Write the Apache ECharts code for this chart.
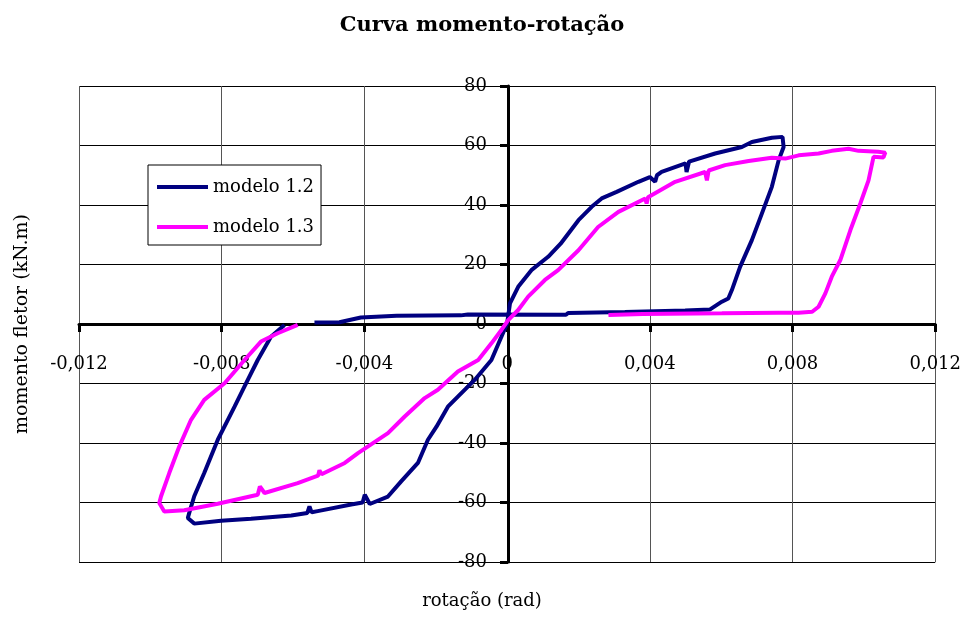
<!DOCTYPE html>
<html>
<head>
<meta charset="utf-8">
<script src="https://cdn.jsdelivr.net/npm/echarts@6/dist/echarts.min.js"></script>
<style>html,body{margin:0;padding:0;background:#fff}#c{width:964px;height:617px}</style>
</head>
<body>
<div id="c"></div>
<script>
const titleText = 'Curva momento-rotação';
const xAxisName = 'rotação (rad)';
const yAxisName = 'momento fletor (kN.m)';
const seriesNames = ['modelo 1.2', 'modelo 1.3'];
const xTicks = [-0.012, -0.008, -0.004, 0, 0.004, 0.008, 0.012];
const yTicks = [-80, -60, -40, -20, 0, 20, 40, 60, 80];

const modelo12 = [
  [-0.00624, -0.3], [-0.00662, -4.3], [-0.00699, -12.1], [-0.00736, -21.0], [-0.00764, -27.8],
  [-0.00811, -38.9], [-0.00849, -50.1], [-0.00877, -57.9], [-0.00891, -63.5], [-0.00895, -65.2],
  [-0.00877, -67.1], [-0.00802, -66.1], [-0.00718, -65.5], [-0.00605, -64.4], [-0.00560, -63.5],
  [-0.00554, -61.3], [-0.00548, -63.3], [-0.00531, -62.9], [-0.00437, -60.7], [-0.00405, -60.0],
  [-0.00399, -57.4], [-0.00385, -60.5], [-0.00334, -58.0], [-0.00297, -52.9], [-0.00250, -46.7],
  [-0.00222, -38.9], [-0.00198, -34.5], [-0.00166, -27.8], [-0.00138, -24.4], [-0.00091, -18.8],
  [-0.00044, -12.1], [-0.00016, -4.3], [0.00000, 0.2], [0.00008, 6.9], [0.00031, 12.5],
  [0.00068, 18.1], [0.00115, 22.6], [0.00150, 27.0], [0.00200, 34.9], [0.00237, 39.4],
  [0.00265, 42.2], [0.00307, 44.4], [0.00368, 47.8], [0.00400, 49.4], [0.00415, 47.8],
  [0.00420, 50.0], [0.00433, 51.1], [0.00500, 54.0], [0.00503, 51.1], [0.00510, 54.6],
  [0.00583, 57.3], [0.00658, 59.5], [0.00686, 61.2], [0.00742, 62.6], [0.00772, 62.9],
  [0.00775, 59.5], [0.00761, 55.0], [0.00742, 46.1], [0.00714, 37.1], [0.00686, 28.2],
  [0.00653, 19.2], [0.00630, 11.4], [0.00620, 8.6], [0.00602, 7.5], [0.00569, 4.9],
  [0.00499, 4.5], [0.00330, 4.0], [0.00171, 3.7], [0.00165, 3.1], [-0.00110, 3.2],
  [-0.00130, 2.9], [-0.00310, 2.8], [-0.00410, 2.2], [-0.00470, 0.6], [-0.00540, 0.5]
];

const modelo13 = [
  [-0.00587, -0.3], [-0.00643, -3.1], [-0.00690, -5.9], [-0.00736, -12.1], [-0.00792, -19.9],
  [-0.00849, -25.5], [-0.00886, -32.2], [-0.00919, -41.2], [-0.00947, -50.1], [-0.00970, -57.9],
  [-0.00975, -60.2], [-0.00961, -63.0], [-0.00905, -62.6], [-0.00811, -60.4], [-0.00699, -57.4],
  [-0.00693, -54.6], [-0.00680, -56.8], [-0.00587, -53.5], [-0.00530, -51.0], [-0.00526, -49.2],
  [-0.00520, -50.5], [-0.00455, -46.7], [-0.00418, -43.4], [-0.00334, -36.7], [-0.00287, -31.1],
  [-0.00231, -24.9], [-0.00194, -22.1], [-0.00138, -16.0], [-0.00081, -12.1], [-0.00044, -6.5],
  [-0.00016, -2.0], [0.00003, 1.3], [0.00031, 4.7], [0.00059, 9.2], [0.00106, 14.8],
  [0.00143, 18.1], [0.00200, 24.8], [0.00255, 32.6], [0.00312, 37.7], [0.00387, 42.2],
  [0.00391, 40.5], [0.00395, 42.6], [0.00471, 47.8], [0.00555, 51.1], [0.00560, 48.3],
  [0.00565, 51.6], [0.00611, 53.4], [0.00677, 54.8], [0.00742, 55.9], [0.00780, 55.6],
  [0.00817, 56.7], [0.00873, 57.3], [0.00910, 58.2], [0.00957, 58.9], [0.00985, 58.2],
  [0.01040, 57.9], [0.01060, 57.6], [0.01055, 56.0], [0.01027, 56.2], [0.01013, 48.3],
  [0.00990, 40.5], [0.00962, 31.5], [0.00934, 21.5], [0.00910, 15.9], [0.00892, 10.3],
  [0.00873, 5.8], [0.00855, 4.1], [0.00817, 3.8], [0.00761, 3.8], [0.00602, 3.6],
  [0.00380, 3.4], [0.00284, 3.0]
];

const colors = ['#000080', '#FF00FF'];
const serif = 'DejaVu Serif';

function fmtX(v) {
  if (Math.abs(v) < 1e-9) return '0';
  return v.toFixed(3).replace('.', ',');
}

const chart = echarts.init(document.getElementById('c'), null, {renderer: 'canvas'});
chart.setOption({
  animation: false,
  backgroundColor: '#fff',
  title: {
    text: titleText, left: 'center', top: 15, padding: 0,
    textStyle: {fontFamily: serif, fontWeight: 'bold', fontSize: 21, color: '#000'}
  },
  grid: {left: 79, right: 27, top: 86, bottom: 55, containLabel: false},
  legend: {
    orient: 'vertical', left: 148, top: 165,
    data: seriesNames,
    icon: 'rect', itemWidth: 51, itemHeight: 4, itemGap: 20,
    padding: [12, 7, 8, 9],
    borderColor: '#000', borderWidth: 1, backgroundColor: '#fff',
    textStyle: {fontFamily: serif, fontSize: 18, color: '#000', lineHeight: 20}
  },
  xAxis: {
    type: 'value', min: xTicks[0], max: xTicks[xTicks.length - 1], interval: 0.004,
    position: 'bottom', offset: -238,
    axisLine: {onZero: false, lineStyle: {color: '#000', width: 3}},
    axisTick: {show: true, length: 8, lineStyle: {color: '#000', width: 3}},
    axisLabel: {margin: 31, fontFamily: serif, fontSize: 18, color: '#000', formatter: fmtX},
    splitLine: {show: true, lineStyle: {color: '#555', width: 1}}
  },
  yAxis: {
    type: 'value', min: yTicks[0], max: yTicks[yTicks.length - 1], interval: 20,
    position: 'left', offset: -429,
    axisLine: {onZero: false, lineStyle: {color: '#000', width: 3}},
    axisTick: {show: true, length: 8, lineStyle: {color: '#000', width: 3}},
    axisLabel: {margin: 21, fontFamily: serif, fontSize: 18, color: '#000'},
    splitLine: {show: true, lineStyle: {color: '#000', width: 1}}
  },
  graphic: [
    {type: 'text', left: 'center', top: 592,
     style: {text: xAxisName, font: '18px "DejaVu Serif"', fill: '#000'}},
    {type: 'text', x: 22, y: 324, rotation: Math.PI / 2,
     style: {text: yAxisName, font: '19px "DejaVu Serif"', fill: '#000', align: 'center', verticalAlign: 'middle'}}
  ],
  series: [
    {name: seriesNames[0], type: 'line', data: modelo12, showSymbol: false, symbol: 'none',
     lineStyle: {color: colors[0], width: 4}, itemStyle: {color: colors[0]}, z: 3},
    {name: seriesNames[1], type: 'line', data: modelo13, showSymbol: false, symbol: 'none',
     lineStyle: {color: colors[1], width: 4}, itemStyle: {color: colors[1]}, z: 3}
  ]
});
</script>
</body>
</html>
